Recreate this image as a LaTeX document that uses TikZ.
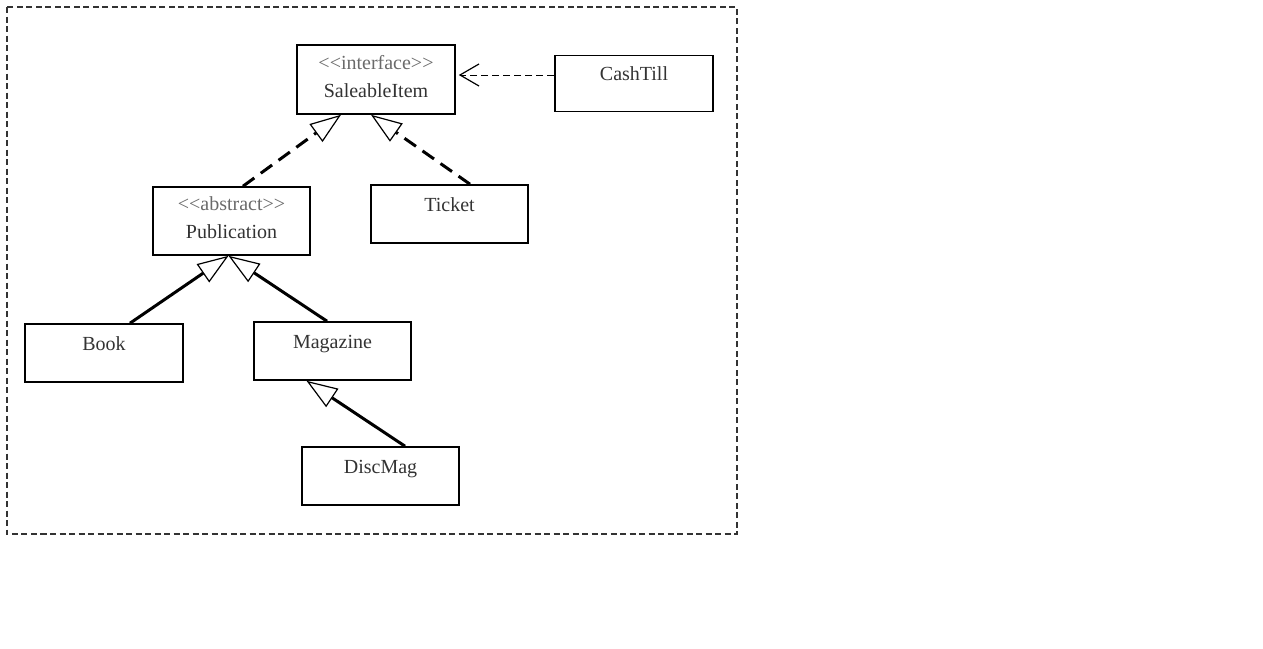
\documentclass[tikz,border=0pt]{standalone}
\usepackage{fontspec}
\setmainfont{Liberation Serif}
\usetikzlibrary{arrows.meta,calc}
\definecolor{txtgray}{HTML}{333333}
\definecolor{stereo}{HTML}{6A6A6A}
\newcommand{\stereo}[1]{{\color{stereo}\textless\kern0pt\textless#1\textgreater\kern0pt\textgreater}}
\tikzset{
  x=0.5pt, y=-0.5pt,
  umlnode/.style = {draw=black, line width=0.8pt, rectangle, align=center, text=txtgray,
    font=\fontsize{10pt}{12pt}\selectfont, inner ysep=4pt, minimum width=78.5pt},
  cls_1/.style = {umlnode, text height=9pt, text depth=12pt},
  cls_2/.style = {umlnode, text height=22pt, text depth=4.5pt},
  impl_e/.style = {line width=1.5pt, dash pattern=on 7pt off 4pt,
    -{Triangle[fill=white, length=15.5pt, width=11pt, line width=0.6pt]}},
  inh_e/.style = {line width=1.5pt,
    -{Triangle[fill=white, length=15.5pt, width=11pt, line width=0.6pt]}},
  dep_e/.style = {line width=0.5pt, dash pattern=on 3.5pt off 2pt, shorten >=1.5pt,
    -{Straight Barb[length=9.5pt, width=11pt, line width=0.6pt]}}
}
\begin{document}
\begin{tikzpicture}
\useasboundingbox (0,0) rectangle (1263,648);
\draw[line width=0.75pt, draw=txtgray, dash pattern=on 3pt off 1.75pt] (7,7) rectangle (737,534);

\node [cls_2, minimum width=79pt] (si) at (376,79.5) {\stereo{interface}\\[1.7pt]SaleableItem};
\node [cls_1, minimum width=79pt, text height=8.5pt, text depth=11.5pt] (cash) at (634,83.5) {CashTill};
\node [cls_2, text height=21.5pt] (pub) at (231.5,221) {\stereo{abstract}\\[2pt]Publication};
\node [cls_1] (ticket) at (449.5,214) {Ticket};
\node [cls_1, minimum width=79pt] (book) at (104,353) {Book};
\node [cls_1] (mag) at (332.5,351) {Magazine};
\node [cls_1] (disc) at (380.5,476) {DiscMag};

\draw [dep_e] ([yshift=4.25pt]cash.west) -- ([yshift=2.25pt]si.east);
\draw [impl_e] ([xshift=5.75pt]pub.north) -- ([xshift=-17.5pt]si.south);
\draw [impl_e] ([xshift=10.25pt]ticket.north) -- ([xshift=-2.5pt]si.south);
\draw [inh_e] ([xshift=13pt]book.north) -- ([xshift=-1.5pt]pub.south);
\draw [inh_e] ([xshift=-2.75pt]mag.north) -- ([xshift=-1.5pt]pub.south);
\draw [inh_e] ([xshift=12.25pt]disc.north) -- ([xshift=-13pt]mag.south);
\end{tikzpicture}
\end{document}
